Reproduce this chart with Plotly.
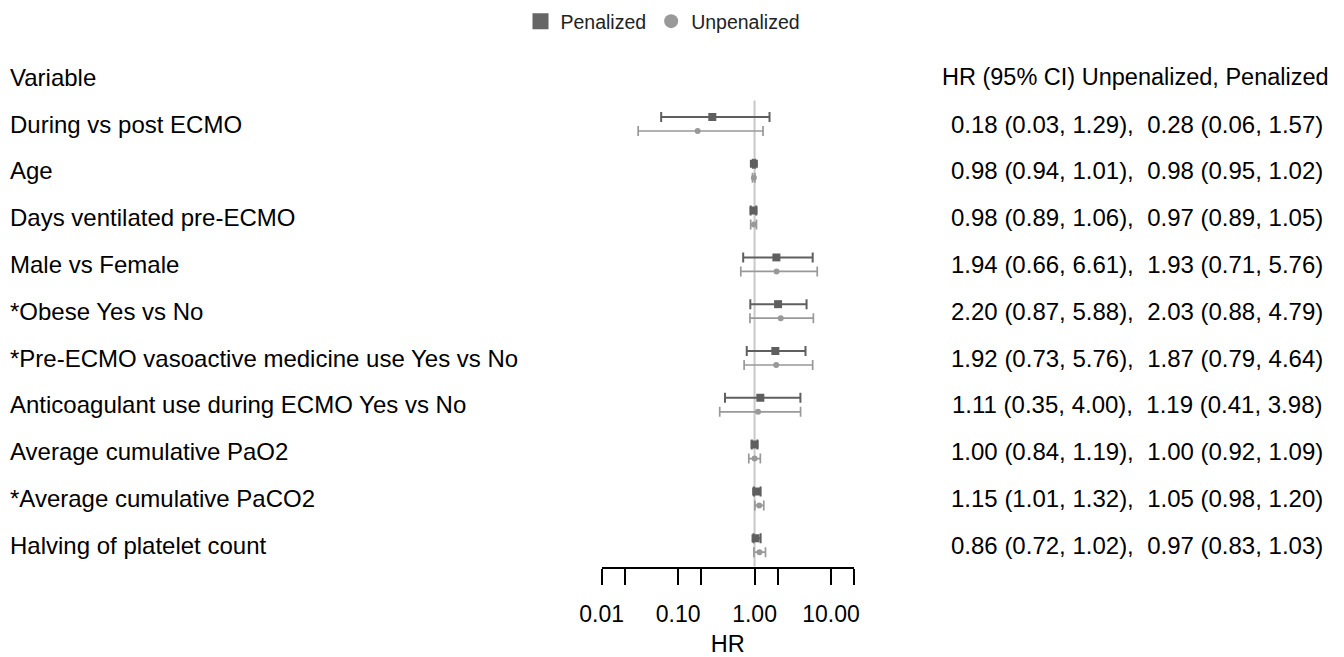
import plotly.graph_objects as go

# ---------------- data ----------------
variables = [
    "During vs post ECMO",
    "Age",
    "Days ventilated pre-ECMO",
    "Male vs Female",
    "*Obese Yes vs No",
    "*Pre-ECMO vasoactive medicine use Yes vs No",
    "Anticoagulant use during ECMO Yes vs No",
    "Average cumulative PaO2",
    "*Average cumulative PaCO2",
    "Halving of platelet count",
]
unp_text = [
    "0.18 (0.03, 1.29),", "0.98 (0.94, 1.01),", "0.98 (0.89, 1.06),",
    "1.94 (0.66, 6.61),", "2.20 (0.87, 5.88),", "1.92 (0.73, 5.76),",
    "1.11 (0.35, 4.00),", "1.00 (0.84, 1.19),", "1.15 (1.01, 1.32),",
    "0.86 (0.72, 1.02),",
]
pen_text = [
    "0.28 (0.06, 1.57)", "0.98 (0.95, 1.02)", "0.97 (0.89, 1.05)",
    "1.93 (0.71, 5.76)", "2.03 (0.88, 4.79)", "1.87 (0.79, 4.64)",
    "1.19 (0.41, 3.98)", "1.00 (0.92, 1.09)", "1.05 (0.98, 1.20)",
    "0.97 (0.83, 1.03)",
]
# plotted values (as drawn in the figure)
pen_hr = [0.28, 0.98, 0.97, 1.93, 2.03, 1.87, 1.19, 1.00, 1.05, 1.03]
pen_lo = [0.06, 0.95, 0.89, 0.71, 0.88, 0.79, 0.41, 0.92, 0.98, 0.97]
pen_hi = [1.57, 1.02, 1.05, 5.76, 4.79, 4.64, 3.98, 1.09, 1.20, 1.20]
unp_hr = [0.18, 0.98, 0.98, 1.94, 2.20, 1.92, 1.11, 1.00, 1.15, 1.16]
unp_lo = [0.03, 0.94, 0.89, 0.66, 0.87, 0.73, 0.35, 0.84, 1.01, 0.98]
unp_hi = [1.29, 1.01, 1.06, 6.61, 5.88, 5.76, 4.00, 1.19, 1.32, 1.39]

tick_vals = [0.01, 0.02, 0.1, 0.2, 1, 2, 10, 20]
tick_text = ["0.01", "", "0.10", "", "1.00", "", "10.00", ""]

header_left = "Variable"
header_right = "HR (95% CI) Unpenalized, Penalized"

# ---------------- style ----------------
# the page body has an 8px margin, so the figure is drawn 8px in from the corner
OX, OY = 8, 8
W, H = 1344 - OX, 657 - OY
PEN_COL = "#5f5f5f"
UNP_COL = "#999999"
FONT = "Arial, Liberation Sans, sans-serif"
OFF = 0.15
SEP = "\u00a0\u00a0"
ROW0, ROWH = 124.0, 46.8      # page y of first row, row spacing
AXIS_Y = 566.7                # page y of the x-axis line


def px(xpage):
    return (xpage - OX) / W


rows = list(range(len(variables)))
fig = go.Figure()

fig.add_trace(go.Scatter(
    x=unp_hr, y=[r + OFF for r in rows], mode="markers",
    marker=dict(symbol="circle", size=6, color=UNP_COL),
    error_x=dict(type="data", symmetric=False,
                 array=[h - m for h, m in zip(unp_hi, unp_hr)],
                 arrayminus=[m - l for m, l in zip(unp_hr, unp_lo)],
                 color=UNP_COL, thickness=1.7, width=5),
    showlegend=False, hoverinfo="skip"))
fig.add_trace(go.Scatter(
    x=pen_hr, y=[r - OFF for r in rows], mode="markers",
    marker=dict(symbol="square", size=8, color=PEN_COL),
    error_x=dict(type="data", symmetric=False,
                 array=[h - m for h, m in zip(pen_hi, pen_hr)],
                 arrayminus=[m - l for m, l in zip(pen_hr, pen_lo)],
                 color=PEN_COL, thickness=2, width=5),
    showlegend=False, hoverinfo="skip"))

# legend-only traces
fig.add_trace(go.Scatter(x=[None], y=[None], mode="markers", name="Penalized",
                         marker=dict(symbol="square", size=16, color="#666666")))
fig.add_trace(go.Scatter(x=[None], y=[None], mode="markers", name="Unpenalized",
                         marker=dict(symbol="circle", size=14, color="#999999")))

y_top = (OY - ROW0) / ROWH
y_bot = (AXIS_Y - ROW0) / ROWH

# reference line at HR = 1
fig.add_shape(type="line", xref="x", yref="y", x0=1, x1=1, y0=-0.5, y1=y_bot,
              line=dict(color="#c8c8c8", width=2), layer="below")

lab_font = dict(family=FONT, size=24, color="#000")
hdr_font = dict(family=FONT, size=23.5, color="#000")
ann = []
ann.append(dict(x=px(8), xref="paper", y=-1, yref="y", text=header_left,
                xanchor="left", yanchor="middle", showarrow=False, font=lab_font))
ann.append(dict(x=px(1135.5), xref="paper", y=-1, yref="y", text=header_right,
                xanchor="center", yanchor="middle", showarrow=False, font=hdr_font))
for r, v, u, p in zip(rows, variables, unp_text, pen_text):
    ann.append(dict(x=px(8), xref="paper", y=r, yref="y", text=v,
                    xanchor="left", yanchor="middle", showarrow=False, font=lab_font))
    ann.append(dict(x=px(1137), xref="paper", y=r, yref="y", text=u + SEP + p,
                    xanchor="center", yanchor="middle", showarrow=False, font=lab_font))

fig.update_layout(
    template="none",
    width=W, height=H,
    margin=dict(l=0, r=0, t=0, b=0, pad=0, autoexpand=False),
    paper_bgcolor="white", plot_bgcolor="white",
    font=dict(family=FONT, color="#000"),
    annotations=ann,
    legend=dict(orientation="h", x=px(663), xanchor="center",
                y=1 + 6 / H, yanchor="top",
                font=dict(family=FONT, size=19.5, color="#222"),
                bgcolor="rgba(0,0,0,0)"),
    xaxis=dict(type="log", domain=[px(601.7), px(854)],
               range=[-2, 1.30103], tickvals=tick_vals, ticktext=tick_text,
               showgrid=False, zeroline=False, showline=True, automargin=False,
               linecolor="#000", linewidth=2, ticks="outside", ticklen=16,
               tickwidth=2, tickcolor="#000", ticklabelstandoff=10,
               tickfont=dict(family=FONT, size=23, color="#000"),
               title=dict(text="HR", font=dict(family=FONT, size=23.5, color="#000"),
                          standoff=9),
               anchor="y"),
    yaxis=dict(domain=[(657 - AXIS_Y) / H, 1], range=[y_bot, y_top], automargin=False,
               showgrid=False, zeroline=False, showline=False,
               showticklabels=False, ticks=""),
)

fig.write_html("out.html")
